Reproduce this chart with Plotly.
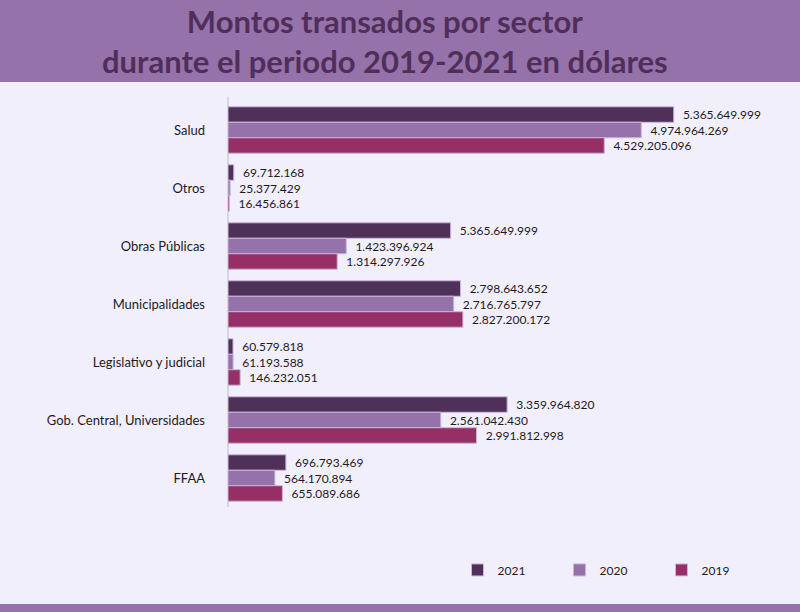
import plotly.graph_objects as go

sectores = ["Salud", "Otros", "Obras Públicas", "Municipalidades",
            "Legislativo y judicial", "Gob. Central, Universidades", "FFAA"]

montos_2021 = [5365649999, 69712168, 2680000000, 2798643652, 60579818, 3359964820, 696793469]
montos_2020 = [4974964269, 25377429, 1423396924, 2716765797, 61193588, 2561042430, 564170894]
montos_2019 = [4529205096, 16456861, 1314297926, 2827200172, 146232051, 2991812998, 655089686]

# etiquetas tal como aparecen (Obras Públicas 2021 repite la de Salud)
etiq_2021 = ["5.365.649.999", "69.712.168", "5.365.649.999", "2.798.643.652",
             "60.579.818", "3.359.964.820", "696.793.469"]
etiq_2020 = ["4.974.964.269", "25.377.429", "1.423.396.924", "2.716.765.797",
             "61.193.588", "2.561.042.430", "564.170.894"]
etiq_2019 = ["4.529.205.096", "16.456.861", "1.314.297.926", "2.827.200.172",
             "146.232.051", "2.991.812.998", "655.089.686"]

anios = ["2021", "2020", "2019"]
colores = ["#4f3059", "#9672aa", "#962f66"]
titulo = "Montos transados por sector<br>durante el periodo 2019-2021 en dólares"

fig = go.Figure()
for nombre, vals, etiq, col in zip(anios, [montos_2021, montos_2020, montos_2019],
                                   [etiq_2021, etiq_2020, etiq_2019], colores):
    fig.add_trace(go.Bar(
        y=sectores, x=vals, name=nombre, orientation="h",
        marker=dict(color=col, line=dict(color="#c9b6d6", width=1)),
        text=["  " + t for t in etiq], textposition="outside",
        textfont=dict(size=12, color="#1e1a22", family="Lato"),
        cliponaxis=False, constraintext="none",
    ))

fig.update_layout(
    width=800, height=612,
    margin=dict(l=228, r=32, t=101, b=105),
    paper_bgcolor="#f1effc", plot_bgcolor="#f1effc",
    barmode="group", bargap=0.2, bargroupgap=0,
    font=dict(family="Lato", color="#1e1a22"),
    xaxis=dict(range=[0, 6.5e9], visible=False, showgrid=False),
    yaxis=dict(autorange="reversed", showline=False,
               showgrid=False, ticks="", ticklabelstandoff=22,
               tickfont=dict(size=13, color="#1e1a22")),
    legend=dict(orientation="h", x=0.425, y=-0.155, xanchor="left", yanchor="middle",
                bgcolor="rgba(0,0,0,0)", entrywidth=57, font=dict(size=12)),
    shapes=[
        dict(type="rect", xref="paper", yref="paper", x0=-0.5, x1=1.1, y0=1.0468, y1=1.3,
             fillcolor="#9672aa", line=dict(width=0), layer="below"),
        dict(type="rect", xref="paper", yref="paper", x0=-0.5, x1=1.1, y0=-0.3, y1=-0.239,
             fillcolor="#9672aa", line=dict(width=0), layer="below"),
        dict(type="line", xref="paper", yref="paper", x0=0, x1=0, y0=0, y1=1.01,
             line=dict(color="#b9bad3", width=1), layer="below"),
    ],
    annotations=[
        dict(text="<b>" + titulo + "</b>", xref="paper", yref="paper", x=0.2907, y=1.1478,
             xanchor="center", yanchor="middle", showarrow=False,
             font=dict(size=31, color="#4f2f5a", family="Lato")),
    ],
)

fig.write_html("out.html", post_script="document.body.style.margin='0';",
               config={"displayModeBar": False})
